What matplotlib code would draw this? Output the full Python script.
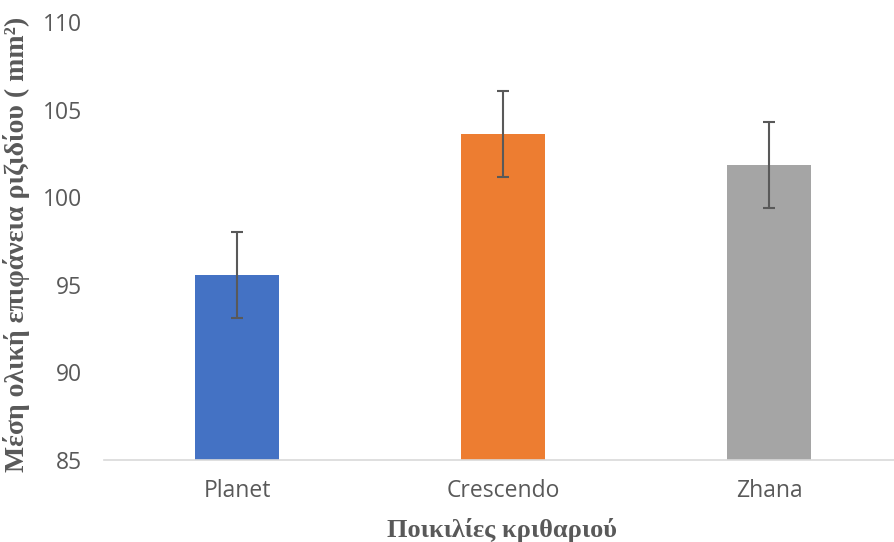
import matplotlib
matplotlib.use("Agg")
import matplotlib.pyplot as plt

varieties = ["Planet", "Crescendo", "Zhana"]
mean_area = [95.55, 103.6, 101.85]
std_err = [2.45, 2.45, 2.45]
bar_colors = ["#4472C4", "#ED7D31", "#A5A5A5"]
y_ticks = [85, 90, 95, 100, 105, 110]

fig = plt.figure(figsize=(8.95, 5.42), dpi=100)
ax = fig.add_axes([104 / 895, 1 - 460 / 542, (902 - 104) / 895, (460 - 22) / 542])

x = range(len(varieties))
ax.bar(x, [m - 85 for m in mean_area], bottom=85, width=0.316, color=bar_colors, zorder=2)
ax.errorbar(x, mean_area, yerr=std_err, fmt="none", ecolor="#595959",
            elinewidth=1.5, capsize=4.5, capthick=1.5, zorder=3)

ax.set_xlim(-0.5, 2.5)
ax.set_ylim(85, 110)
ax.set_yticks(y_ticks)
ax.set_xticks(list(x))
ax.set_xticklabels(varieties)

for side in ["top", "right", "left"]:
    ax.spines[side].set_visible(False)
ax.spines["bottom"].set_color("#D9D9D9")
ax.spines["bottom"].set_linewidth(1.2)
ax.tick_params(axis="both", length=0, colors="#595959", labelsize=16.5)
ax.tick_params(axis="y", pad=15.5)
ax.tick_params(axis="x", pad=14)
for lbl in ax.get_xticklabels() + ax.get_yticklabels():
    lbl.set_family("Open Sans")

fig.text(17 / 895, 1 - 244 / 542, "Μέση ολική επιφάνεια ριζιδίου ( mm²)",
         rotation=90, ha="center", va="center", family="Liberation Serif",
         fontweight="bold", fontsize=20, color="#595959")
fig.text(502 / 895, 1 - 530 / 542, "Ποικιλίες κριθαριού", ha="center", va="center",
         family="Liberation Serif", fontweight="bold", fontsize=19, color="#595959")

fig.savefig("out.png", dpi=100)
